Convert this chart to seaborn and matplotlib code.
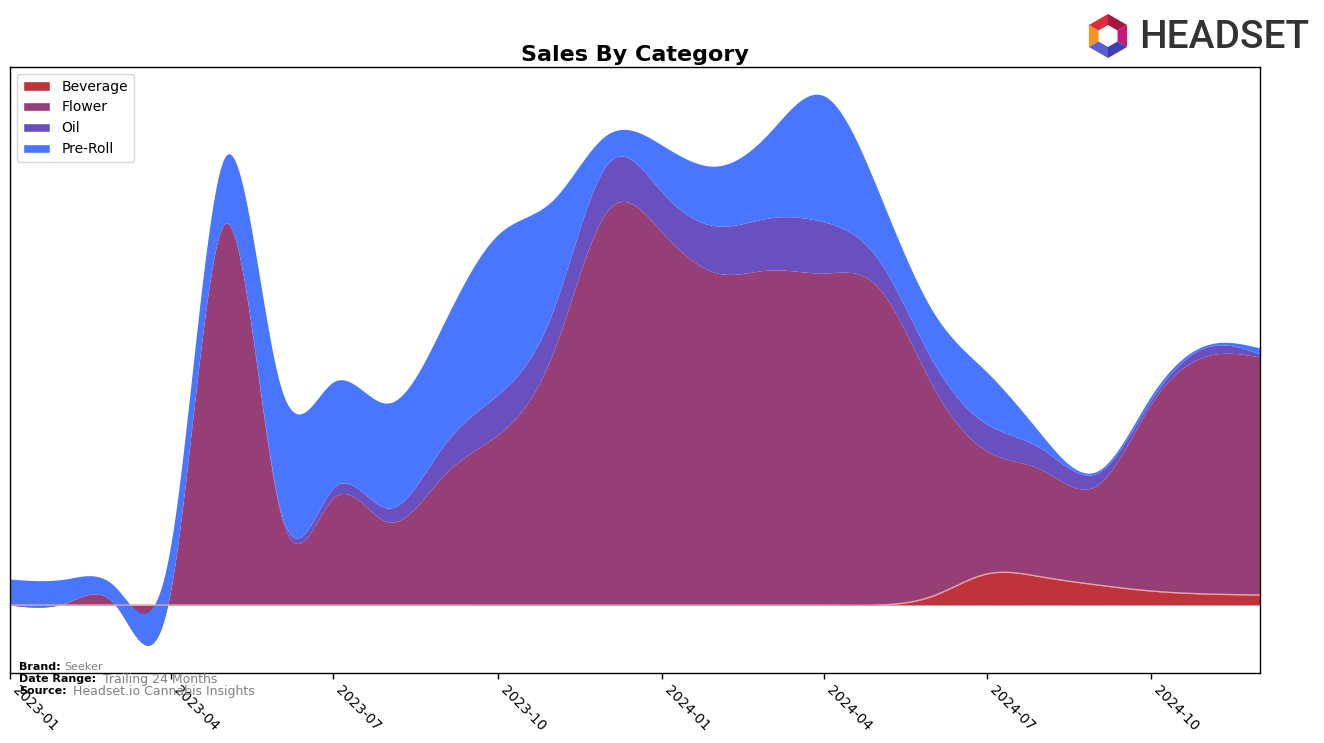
import numpy as np
import pandas as pd
import matplotlib
matplotlib.use("Agg")
import matplotlib.pyplot as plt
import matplotlib.dates as mdates
from matplotlib.patches import Patch, Polygon
import seaborn as sns

# ---------------- data (monthly) ----------------
months = pd.date_range("2023-01-01", periods=24, freq="MS")
categories = ["Beverage", "Flower", "Oil", "Pre-Roll"]
beverage = [0, 0, 0, 0, 0, 0, 0, 0, 0, 0, 0, 0, 0, 0, 0, 0, 0, 9, 31, 28, 20, 14, 11, 10]
flower = [0, 2, 0, 15, 381, 95, 107, 83, 130, 170, 252, 393, 373, 332, 335, 332, 318, 209,
          123, 107, 100, 187, 238, 238]
oil = [0, 0, 0, 0, 0, 3, 10, 14, 30, 40, 42, 47, 40, 47, 52, 51, 28, 25, 27, 21, 12, 4, 9, 3]
preroll = [26, 24, 18, 45, 66, 124, 106, 105, 122, 160, 111, 30, 47, 60, 85, 126, 69, 50, 52,
           13.5, 2, 4, 2, 6]
tick_labels = ["2023-01", "2023-04", "2023-07", "2023-10", "2024-01", "2024-04", "2024-07", "2024-10"]
colors = ["#c0333a", "#963f77", "#6a4fbe", "#4876ff"]


def smooth(x, y, xs):
    """Natural cubic spline through the monthly points (for drawing only)."""
    x = np.asarray(x, float)
    y = np.asarray(y, float)
    n = len(x)
    h = np.diff(x)
    A = np.zeros((n, n))
    b = np.zeros(n)
    A[0, 0] = 1.0
    A[-1, -1] = 1.0
    for i in range(1, n - 1):
        A[i, i - 1] = h[i - 1]
        A[i, i] = 2 * (h[i - 1] + h[i])
        A[i, i + 1] = h[i]
        b[i] = 6 * ((y[i + 1] - y[i]) / h[i] - (y[i] - y[i - 1]) / h[i - 1])
    M = np.linalg.solve(A, b)
    idx = np.clip(np.searchsorted(x, xs) - 1, 0, n - 2)
    x0, x1 = x[idx], x[idx + 1]
    hh = x1 - x0
    return (M[idx] * (x1 - xs) ** 3 / (6 * hh) + M[idx + 1] * (xs - x0) ** 3 / (6 * hh)
            + (y[idx] / hh - M[idx] * hh / 6) * (x1 - xs)
            + (y[idx + 1] / hh - M[idx + 1] * hh / 6) * (xs - x0))


sns.set_style("white")
plt.rcParams["font.family"] = ["DejaVu Sans"]
plt.rcParams["text.color"] = "black"
plt.rcParams["xtick.color"] = "black"

fig = plt.figure(figsize=(13.24, 7.43), dpi=100)
ax = fig.add_axes([10 / 1324, 1 - 673 / 743, 1250 / 1324, 606 / 743])

xn = mdates.date2num(months)
xs = np.linspace(xn[0], xn[-1], 800)
series = [beverage, flower, oil, preroll]
curves = [smooth(xn, s, xs) for s in series]
cum = np.cumsum(np.vstack(curves), axis=0)
lower = np.vstack([np.zeros_like(xs), cum[:-1]])

for k in range(4):
    ax.fill_between(xs, lower[k], cum[k], color=colors[k], lw=0)
# darker tone where the pre-roll band sinks below zero
top_neg = np.minimum(lower[3], 0)
ax.fill_between(xs, top_neg, np.minimum(cum[3], 0), where=cum[3] < top_neg,
                color="#3a4fe0", lw=0, interpolate=True)
sns.lineplot(x=xs, y=cum[0], ax=ax, color="#e8a3a6", lw=1.0)

ax.set_xlim(xn[0], xn[-1])
ax.set_ylim(-68, 538)
ax.set_yticks([])
ticks = mdates.date2num(pd.to_datetime(tick_labels))
ax.set_xticks(ticks)
ax.set_xticklabels(tick_labels, rotation=-45, ha="left", va="top", fontsize=10, color="black")
ax.tick_params(axis="x", length=4, width=1, direction="out", bottom=True, colors="black")
ax.set_xlabel("")
ax.set_ylabel("")
for sp in ax.spines.values():
    sp.set_color("black")
    sp.set_linewidth(1)

ax.set_title("Sales By Category", fontsize=16, fontweight="bold", pad=4, color="black")

handles = [Patch(facecolor=c, label=l) for c, l in zip(colors, categories)]
leg = ax.legend(handles=handles, loc="upper left", fontsize=10, frameon=True)
for t in leg.get_texts():
    t.set_color("black")

# footer
fig.text(19 / 1324, 1 - 667 / 743, "Brand:", fontsize=8, fontweight="bold", va="center")
fig.text(64 / 1324, 1 - 667 / 743, "Seeker", fontsize=8, color="gray", va="center")
fig.text(19 / 1324, 1 - 679 / 743, "Date Range:", fontsize=8, fontweight="bold", va="center")
fig.text(103 / 1324, 1 - 679 / 743, "Trailing 24 Months", fontsize=9, color="gray", va="center")
fig.text(19 / 1324, 1 - 691 / 743, "Source:", fontsize=8, fontweight="bold", va="center")
fig.text(73 / 1324, 1 - 691 / 743, "Headset.io Cannabis Insights", fontsize=9, color="gray", va="center")

# logo
fig.text(1139 / 1324, 1 - 38 / 743, "HEADSET", fontsize=28, color="#333333", fontweight="medium",
         family=["Roboto", "DejaVu Sans"], va="center", ha="left")
cx, cy, R, r = 1108, 36, 22, 11
segs = [(150, 210, "#f7931e"), (90, 150, "#e02b3a"), (30, 90, "#a8163f"), (-30, 30, "#c4187a"),
        (-90, -30, "#3d3fb5"), (210, 270, "#5a5fd0")]
for a0, a1, c in segs:
    pts = []
    for a in (a0, a1):
        t = np.radians(a)
        pts.append(((cx + R * np.cos(t)) / 1324, 1 - (cy - R * np.sin(t)) / 743))
    for a in (a1, a0):
        t = np.radians(a)
        pts.append(((cx + r * np.cos(t)) / 1324, 1 - (cy - r * np.sin(t)) / 743))
    fig.patches.append(Polygon(pts, closed=True, transform=fig.transFigure, facecolor=c,
                               edgecolor="none"))

fig.savefig("out.png", dpi=100)
